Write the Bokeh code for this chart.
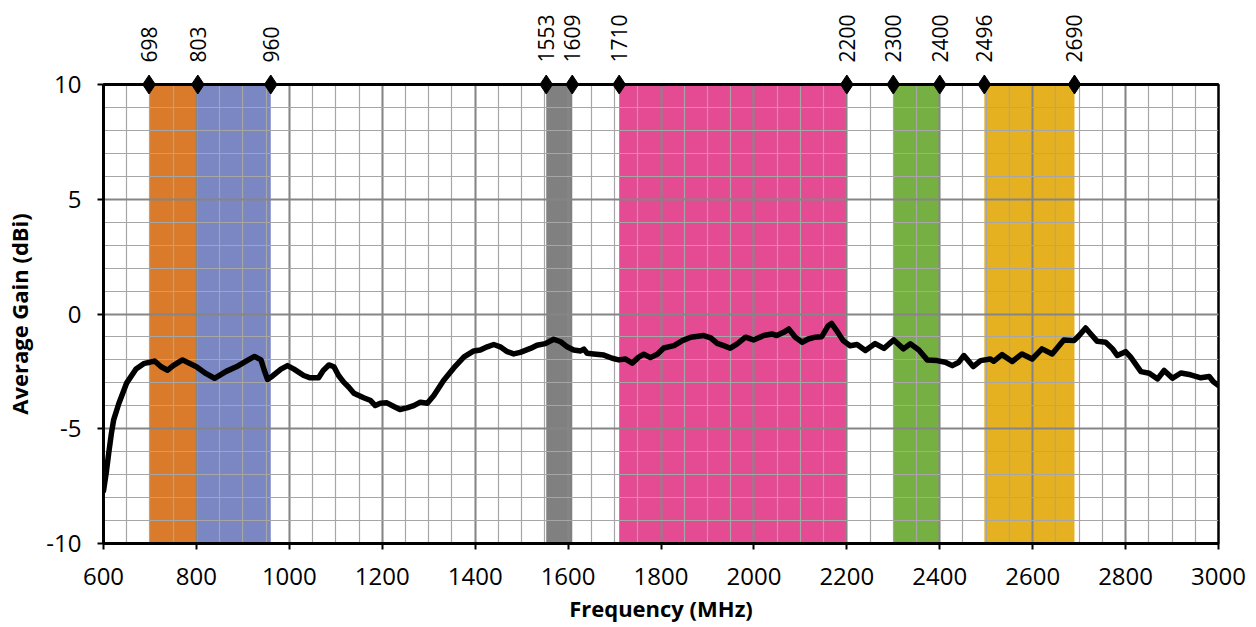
import math
from bokeh.plotting import figure
from bokeh.models import (LinearAxis, FixedTicker, SingleIntervalTicker, Range1d,
                          ColumnDataSource, PrintfTickFormatter)
from bokeh.embed import file_html
from bokeh.resources import INLINE

# ---- data ----
freq_mhz = [600, 606, 611, 617, 622, 633, 650, 670, 688, 700, 710, 724, 738, 750, 770,
            800, 821, 839, 864, 886, 907, 925, 939, 946, 953, 964, 982, 996, 1010, 1031,
            1045, 1063, 1073, 1085, 1096, 1106, 1117, 1128, 1139, 1160, 1175, 1185, 1196,
            1210, 1225, 1238, 1253, 1268, 1282, 1297, 1311, 1332, 1354, 1376, 1397, 1411,
            1426, 1440, 1454, 1469, 1483, 1497, 1519, 1533, 1551, 1569, 1584, 1598, 1612,
            1627, 1634, 1641, 1655, 1677, 1695, 1709, 1723, 1738, 1752, 1763, 1777, 1792,
            1806, 1828, 1846, 1864, 1892, 1907, 1921, 1935, 1949, 1964, 1982, 1999, 2021,
            2039, 2049, 2064, 2075, 2089, 2104, 2117, 2132, 2146, 2160, 2167, 2178, 2192,
            2207, 2222, 2240, 2261, 2280, 2301, 2322, 2337, 2355, 2373, 2394, 2412, 2427,
            2441, 2452, 2472, 2488, 2509, 2516, 2534, 2556, 2577, 2599, 2620, 2642, 2667,
            2689, 2700, 2714, 2725, 2739, 2757, 2772, 2782, 2800, 2811, 2833, 2851, 2869,
            2883, 2901, 2919, 2940, 2962, 2980, 2990, 3000]
gain_dbi = [-7.7, -6.9, -6.1, -5.2, -4.6, -3.9, -3.0, -2.4, -2.15, -2.1, -2.05, -2.3, -2.45,
            -2.25, -2.0, -2.3, -2.6, -2.8, -2.5, -2.3, -2.05, -1.85, -2.0, -2.45, -2.85, -2.7,
            -2.4, -2.25, -2.4, -2.68, -2.78, -2.78, -2.46, -2.22, -2.3, -2.68, -2.97, -3.19,
            -3.45, -3.65, -3.77, -3.99, -3.89, -3.87, -4.03, -4.16, -4.09, -3.99, -3.84, -3.89,
            -3.55, -2.9, -2.35, -1.87, -1.61, -1.57, -1.43, -1.33, -1.43, -1.64, -1.74, -1.67,
            -1.5, -1.36, -1.29, -1.1, -1.21, -1.43, -1.57, -1.61, -1.53, -1.71, -1.74, -1.79,
            -1.93, -2.0, -1.96, -2.14, -1.88, -1.75, -1.9, -1.75, -1.48, -1.38, -1.16, -1.01,
            -0.94, -1.04, -1.28, -1.38, -1.49, -1.3, -1.01, -1.13, -0.94, -0.87, -0.94, -0.8,
            -0.65, -1.01, -1.23, -1.09, -1.01, -0.99, -0.51, -0.41, -0.72, -1.16, -1.38, -1.33,
            -1.59, -1.29, -1.5, -1.13, -1.52, -1.3, -1.57, -2.0, -2.03, -2.1, -2.25, -2.1,
            -1.81, -2.29, -2.03, -1.96, -2.06, -1.77, -2.07, -1.74, -1.96, -1.52, -1.74, -1.13,
            -1.16, -0.94, -0.61, -0.87, -1.19, -1.23, -1.52, -1.81, -1.64, -1.88, -2.51, -2.58,
            -2.83, -2.46, -2.8, -2.57, -2.65, -2.78, -2.72, -2.97, -3.12]

band_start = [698, 803, 1553, 1710, 2300, 2496]
band_end = [803, 960, 1609, 2200, 2400, 2690]
band_colors = ["#D97B2A", "#7B87C2", "#808080", "#E44B93", "#76B043", "#E5B120"]
edge_ticks = [698, 803, 960, 1553, 1609, 1710, 2200, 2300, 2400, 2496, 2690]

x_min, x_max = 600, 3000
y_min, y_max = -10, 10

FONT = "Open Sans"

p = figure(width=1248, height=626, output_backend="svg", toolbar_location=None,
           x_range=Range1d(x_min, x_max), y_range=Range1d(y_min, y_max),
           min_border_left=103, min_border_right=30, min_border_top=84, min_border_bottom=83,
           x_axis_label="Frequency (MHz)", y_axis_label="Average Gain (dBi)")
p.outline_line_color = "black"
p.outline_line_width = 2.5
p.background_fill_color = "white"
p.border_fill_color = "white"

# bands (below grid)
bsrc = ColumnDataSource(dict(left=band_start, right=band_end, color=band_colors,
                             top=[y_max] * len(band_start), bottom=[y_min] * len(band_start)))
p.quad(left="left", right="right", top="top", bottom="bottom", fill_color="color",
       line_color=None, source=bsrc, level="image")

# ticks / grids
xt = SingleIntervalTicker(interval=200, num_minor_ticks=4)
yt = SingleIntervalTicker(interval=5, num_minor_ticks=5)
p.xaxis.ticker = xt
p.yaxis.ticker = yt
p.xgrid.ticker = xt
p.ygrid.ticker = yt
p.yaxis.formatter = PrintfTickFormatter(format="%d")
p.xaxis.formatter = PrintfTickFormatter(format="%d")
for g in (p.xgrid, p.ygrid):
    g.grid_line_color = "#858585"
    g.grid_line_width = 2
    g.minor_grid_line_color = "#a6a6a6"
    g.minor_grid_line_width = 1.2

for ax in (p.xaxis, p.yaxis):
    ax.axis_line_color = "black"
    ax.axis_line_width = 3
    ax.major_tick_line_color = "black"
    ax.major_tick_line_width = 2
    ax.major_tick_in = 0
    ax.major_tick_out = 6
    ax.minor_tick_line_color = None
    ax.major_label_text_font = FONT
    ax.major_label_text_font_size = "24px"
    ax.major_label_text_color = "black"
    ax.axis_label_text_font = FONT
    ax.axis_label_text_font_size = "22px"
    ax.axis_label_text_font_style = "bold"
    ax.axis_label_text_color = "black"
p.xaxis.major_label_standoff = 18
p.xaxis.axis_label_standoff = 5
p.yaxis.major_label_standoff = 16
p.yaxis.axis_label_standoff = 9

# top axis with band edge labels
top = LinearAxis(ticker=FixedTicker(ticks=edge_ticks))
top.axis_line_color = "black"
top.axis_line_width = 3
top.major_tick_line_color = None
top.minor_tick_line_color = None
top.major_label_orientation = math.pi / 2
top.major_label_text_font = FONT
top.major_label_text_font_size = "21px"
top.major_label_text_color = "black"
top.major_label_standoff = 16
p.add_layout(top, "above")

# gain curve
p.line(freq_mhz, gain_dbi, line_color="black", line_width=5.5, line_join="round",
       line_cap="round")

# diamond markers at band edges
p.scatter(edge_ticks, [y_max] * len(edge_ticks), marker="diamond", size=19,
          fill_color="black", line_color="black", level="overlay")

open("out.html", "w").write(file_html(p, INLINE))
